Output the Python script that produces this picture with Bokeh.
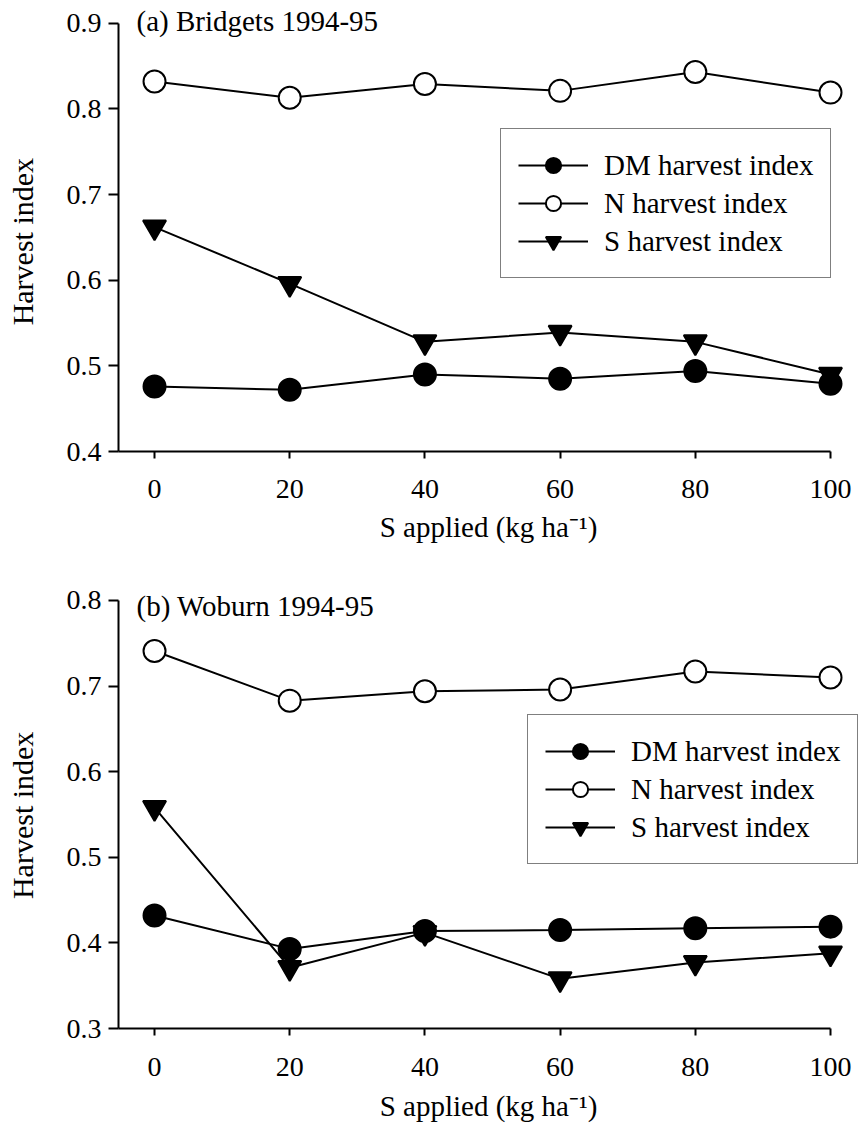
import math

from bokeh.plotting import figure
from bokeh.models import (Label, Legend, LegendItem, FixedTicker, BasicTickFormatter,
                          Range1d)
from bokeh.layouts import column, row
from bokeh.embed import file_html
from bokeh.resources import INLINE

# S application rate (kg ha-1)
s_rate = [0, 20, 40, 60, 80, 100]
x_ticks = [0, 20, 40, 60, 80, 100]

# (a) Bridgets 1994-95
bridgets_dm = [0.476, 0.472, 0.490, 0.485, 0.494, 0.479]
bridgets_n = [0.832, 0.813, 0.829, 0.821, 0.843, 0.819]
bridgets_s = [0.662, 0.596, 0.528, 0.539, 0.528, 0.490]
bridgets_y_ticks = [0.4, 0.5, 0.6, 0.7, 0.8, 0.9]

# (b) Woburn 1994-95
woburn_dm = [0.432, 0.393, 0.414, 0.415, 0.417, 0.419]
woburn_n = [0.741, 0.683, 0.694, 0.696, 0.717, 0.710]
woburn_s = [0.558, 0.371, 0.412, 0.358, 0.377, 0.388]
woburn_y_ticks = [0.3, 0.4, 0.5, 0.6, 0.7, 0.8]

series_names = ["DM harvest index", "N harvest index", "S harvest index"]
panel_titles = ["(a) Bridgets 1994-95", "(b) Woburn 1994-95"]
x_label = "S applied (kg ha\u207b\u00b9)"
y_label = "Harvest index"

FONT = "Liberation Serif"
X_START, X_END = -5.33, 104.14
STRIP_W = 40          # width of the strip holding the vertical axis title


def ylabel_strip(height, y_range, label_y):
    """Narrow blank canvas carrying the rotated y-axis title (shares the panel's y range)."""
    f = figure(width=STRIP_W, height=height, output_backend="svg", toolbar_location=None,
               x_range=Range1d(0, STRIP_W), y_range=y_range,
               x_axis_location=None, y_axis_location=None,
               min_border=0, min_border_left=0, min_border_right=0,
               min_border_top=0, min_border_bottom=0)
    f.outline_line_color = None
    f.grid.visible = False
    f.border_fill_color = "white"
    f.background_fill_color = "white"
    f.add_layout(Label(x=22, y=label_y, angle=math.pi / 2, text=y_label,
                       text_font=FONT, text_font_size="30px", text_color="#000000",
                       text_align="center", text_baseline="middle"))
    return f


def make_panel(title, dm, n, s, y_ticks, height, y_top, b_bottom, legend_xy, title_dy,
               tick_standoff, label_standoff):
    p = figure(width=858 - STRIP_W, height=height, output_backend="svg",
               toolbar_location=None,
               x_range=Range1d(X_START, X_END), y_range=Range1d(y_ticks[0], y_top),
               min_border_left=118 - STRIP_W, min_border_right=0,
               min_border_top=0, min_border_bottom=b_bottom)
    p.outline_line_color = None
    p.xgrid.visible = False
    p.ygrid.visible = False
    p.background_fill_color = "white"
    p.border_fill_color = "white"

    # axes: lines stop at the last tick
    p.xaxis.bounds = (X_START, x_ticks[-1])
    p.yaxis.bounds = (y_ticks[0], y_ticks[-1])
    p.xaxis.ticker = FixedTicker(ticks=x_ticks)
    p.yaxis.ticker = FixedTicker(ticks=y_ticks)
    p.yaxis.formatter = BasicTickFormatter(precision=1)
    for ax in (p.xaxis[0], p.yaxis[0]):
        ax.axis_line_width = 2
        ax.axis_line_color = "black"
        ax.major_tick_line_width = 2
        ax.major_tick_line_color = "black"
        ax.major_tick_in = 0
        ax.minor_tick_out = 0
        ax.minor_tick_in = 0
        ax.major_label_text_font = FONT
        ax.major_label_text_font_size = "28px"
        ax.major_label_text_color = "black"
        ax.axis_label_text_font = FONT
        ax.axis_label_text_font_size = "29px"
        ax.axis_label_text_font_style = "normal"
        ax.axis_label_text_color = "black"
    p.xaxis.major_tick_out = 7
    p.xaxis.major_label_standoff = tick_standoff
    p.xaxis.axis_label = x_label
    p.xaxis.axis_label_standoff = label_standoff
    p.yaxis.major_tick_out = 10
    p.yaxis.major_label_standoff = 7

    # series
    items = []
    specs = [(dm, "circle", "black"), (n, "circle", "white"), (s, "inverted_triangle", "black")]
    for name, (vals, marker, fill) in zip(series_names, specs):
        ln = p.line(s_rate, vals, line_color="black", line_width=2)
        size = 22 if marker == "circle" else 23
        sc = p.scatter(s_rate, vals, marker=marker, size=size, fill_color=fill,
                       line_color="black", line_width=2)
        items.append(LegendItem(label=name, renderers=[ln, sc]))

    legend = Legend(items=items, location=legend_xy)
    legend.label_text_font = FONT
    legend.label_text_font_size = "29px"
    legend.label_text_color = "black"
    legend.glyph_width = 70
    legend.glyph_height = 38
    legend.label_height = 38
    legend.label_standoff = 16
    legend.padding = 17
    legend.spacing = 0
    legend.margin = 0
    legend.border_line_color = "black"
    legend.border_line_width = 1.5
    legend.background_fill_color = "white"
    legend.background_fill_alpha = 1
    p.add_layout(legend)

    # panel title near the top of the y axis
    p.add_layout(Label(x=X_START, y=y_ticks[-1], x_offset=18, y_offset=title_dy, text=title,
                       text_font=FONT, text_font_size="29px", text_color="black",
                       text_baseline="alphabetic", text_align="left"))
    return p


TOP_H, BOTTOM_H = 556, 569

top = make_panel(panel_titles[0], bridgets_dm, bridgets_n, bridgets_s, bridgets_y_ticks,
                 TOP_H, 0.9265, 105, (382, 173), 2, 21, 10)
bottom = make_panel(panel_titles[1], woburn_dm, woburn_n, woburn_s, woburn_y_ticks,
                    BOTTOM_H, 0.8514, 97, (409, 164), -6, 22, 11)

page = column(row(ylabel_strip(TOP_H, top.y_range, 0.645), top, spacing=0),
              row(ylabel_strip(BOTTOM_H, bottom.y_range, 0.549), bottom, spacing=0),
              spacing=0)
open("out.html", "w").write(file_html(page, INLINE))
